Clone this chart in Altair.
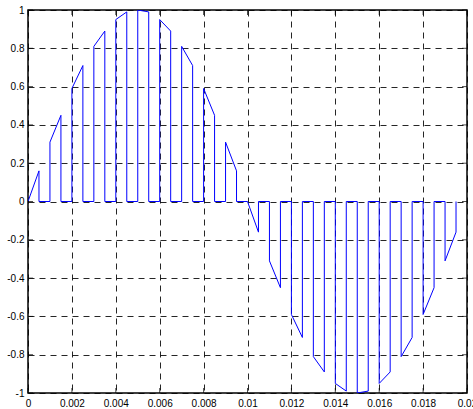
import altair as alt
import pandas as pd

# Chopped sine wave: one pulse per millisecond, each following the sine for half a millisecond
pulse_start_t = [0.000, 0.001, 0.002, 0.003, 0.004, 0.005, 0.006, 0.007, 0.008, 0.009,
                 0.010, 0.011, 0.012, 0.013, 0.014, 0.015, 0.016, 0.017, 0.018, 0.019]
pulse_end_t = [0.0005, 0.0015, 0.0025, 0.0035, 0.0045, 0.0055, 0.0065, 0.0075, 0.0085, 0.0095,
               0.0105, 0.0115, 0.0125, 0.0135, 0.0145, 0.0155, 0.0165, 0.0175, 0.0185, 0.0195]
pulse_start_v = [0.0, 0.31, 0.59, 0.81, 0.95, 1.0, 0.95, 0.81, 0.59, 0.31,
                 0.0, -0.31, -0.59, -0.81, -0.95, -1.0, -0.95, -0.81, -0.59, -0.31]
pulse_end_v = [0.16, 0.45, 0.71, 0.89, 0.99, 0.99, 0.89, 0.71, 0.45, 0.16,
               -0.16, -0.45, -0.71, -0.89, -0.99, -0.99, -0.89, -0.71, -0.45, -0.16]

x_ticks = [0, 0.002, 0.004, 0.006, 0.008, 0.01, 0.012, 0.014, 0.016, 0.018, 0.02]
y_ticks = [-1, -0.8, -0.6, -0.4, -0.2, 0, 0.2, 0.4, 0.6, 0.8, 1]

rows = []
for t0, t1, v0, v1 in zip(pulse_start_t, pulse_end_t, pulse_start_v, pulse_end_v):
    for t, v in ((t0, 0.0), (t0, v0), (t1, v1), (t1, 0.0)):
        rows.append({"i": len(rows), "t": t, "v": v})
signal = pd.DataFrame(rows)

W, H = 439, 383
FONT = "Liberation Sans"
label_expr = "datum.value < 0 ? '-' + format(-datum.value, '~g') : format(datum.value, '~g')"

x_scale = alt.Scale(domain=[0, 0.02], nice=False, zero=False)
y_scale = alt.Scale(domain=[-1, 1], nice=False, zero=False)

x_axis = alt.Axis(values=x_ticks, title=None, ticks=False, labelPadding=5,
                  labelExpr=label_expr, labelFont=FONT, labelFontSize=10, labelColor="black",
                  domain=False, grid=True, gridColor="black", gridDash=[6, 5],
                  gridWidth=1, gridOpacity=0.85, labelFlush=False, labelOverlap=False)
y_axis = alt.Axis(values=y_ticks, title=None, ticks=False, labelPadding=4,
                  labelExpr=label_expr, labelFont=FONT, labelFontSize=10, labelColor="black",
                  domain=False, grid=True, gridColor="black", gridDash=[6, 5],
                  gridWidth=1, gridOpacity=0.85, labelFlush=False, labelOverlap=False)

line = alt.Chart(signal).mark_line(color="#0000ff", strokeWidth=1, clip=True).encode(
    x=alt.X("t:Q", scale=x_scale, axis=x_axis),
    y=alt.Y("v:Q", scale=y_scale, axis=y_axis),
    order=alt.Order("i:Q"),
)

xt = pd.DataFrame({"t": x_ticks})
yt = pd.DataFrame({"v": y_ticks})
TL = 5  # inward tick length

ticks_bottom = alt.Chart(xt).mark_tick(color="black", size=TL, thickness=1).encode(
    x=alt.X("t:Q", scale=x_scale, axis=x_axis), y=alt.value(H - TL / 2))
ticks_top = alt.Chart(xt).mark_tick(color="black", size=TL, thickness=1).encode(
    x=alt.X("t:Q", scale=x_scale, axis=x_axis), y=alt.value(TL / 2))
ticks_left = alt.Chart(yt).mark_tick(color="black", size=TL, thickness=1).encode(
    y=alt.Y("v:Q", scale=y_scale, axis=y_axis), x=alt.value(TL / 2))
ticks_right = alt.Chart(yt).mark_tick(color="black", size=TL, thickness=1).encode(
    y=alt.Y("v:Q", scale=y_scale, axis=y_axis), x=alt.value(W - TL / 2))

chart = alt.layer(line, ticks_bottom, ticks_top, ticks_left, ticks_right).properties(
    width=W, height=H,
    autosize=alt.AutoSizeParams(type="none"),
    padding={"left": 28, "top": 10, "right": 6, "bottom": 16},
    background="white",
).configure_view(stroke="black", strokeWidth=1.5)

chart.save("out.html", embed_options={"renderer": "svg", "actions": False})
